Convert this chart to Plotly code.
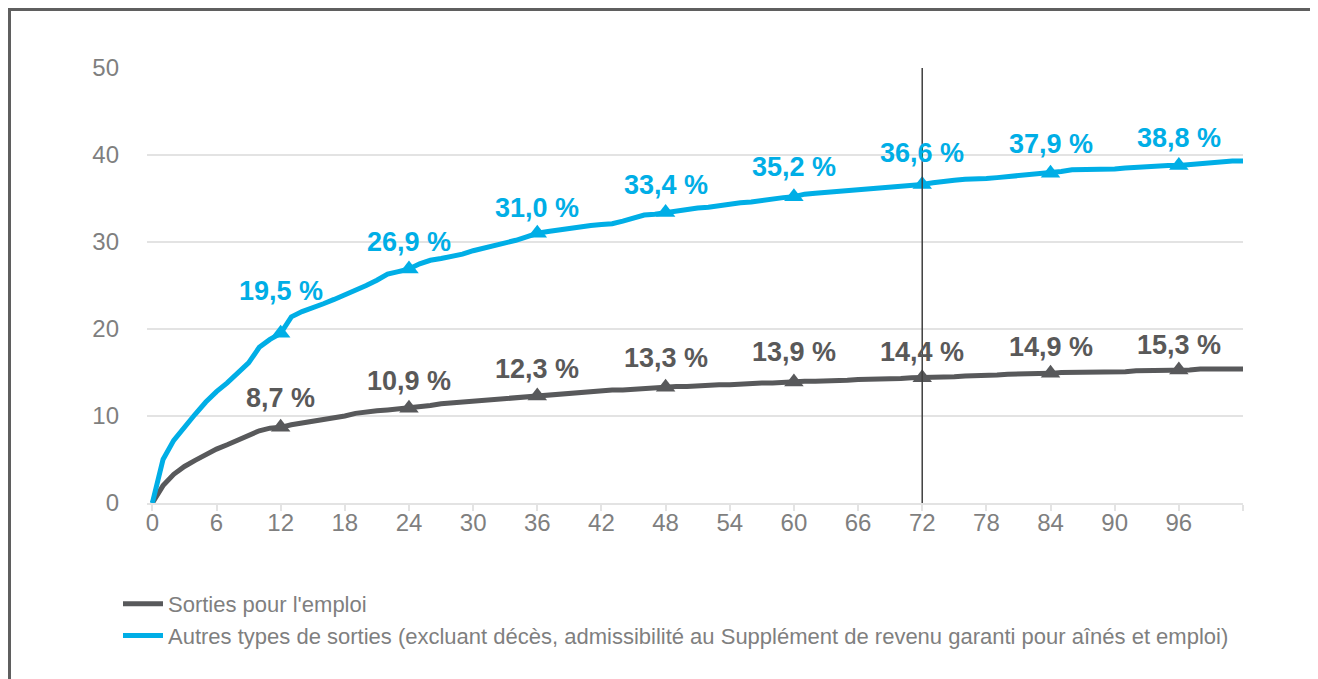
import plotly.graph_objects as go

# months 0..102
months = list(range(0, 103))

emploi = [
    0.0, 2.0, 3.3, 4.2, 4.9, 5.6, 6.2, 6.7, 7.2, 7.8,
    8.3, 8.6, 8.7, 9.0, 9.2, 9.3, 9.6, 9.8, 10.0, 10.3,
    10.5, 10.6, 10.7, 10.8, 10.9, 11.1, 11.2, 11.4, 11.5, 11.6,
    11.8, 11.9, 12.0, 12.1, 12.2, 12.2, 12.3, 12.4, 12.5, 12.6,
    12.7, 12.8, 12.9, 13.0, 13.0, 13.1, 13.2, 13.3, 13.3, 13.4,
    13.4, 13.5, 13.5, 13.6, 13.6, 13.7, 13.8, 13.8, 13.8, 13.9,
    13.9, 14.0, 14.0, 14.0, 14.1, 14.1, 14.2, 14.2, 14.3, 14.3,
    14.3, 14.4, 14.4, 14.5, 14.5, 14.5, 14.6, 14.6, 14.7, 14.7,
    14.8, 14.8, 14.8, 14.9, 14.9, 15.0, 15.0, 15.0, 15.0, 15.1,
    15.1, 15.1, 15.2, 15.2, 15.3, 15.3, 15.3, 15.3, 15.4, 15.4,
    15.4, 15.4, 15.4,
]

autres = [
    0.0, 5.0, 7.2, 8.8, 10.2, 11.6, 12.8, 13.8, 14.9, 16.1,
    17.9, 18.8, 19.5, 21.4, 22.0, 22.4, 22.9, 23.4, 23.9, 24.4,
    25.0, 25.6, 26.3, 26.6, 26.9, 27.5, 27.9, 28.1, 28.3, 28.6,
    29.0, 29.3, 29.5, 29.8, 30.2, 30.6, 31.0, 31.2, 31.4, 31.6,
    31.8, 31.9, 32.0, 32.1, 32.4, 32.8, 33.1, 33.2, 33.4, 33.5,
    33.7, 33.9, 34.0, 34.2, 34.3, 34.5, 34.6, 34.8, 35.0, 35.1,
    35.2, 35.5, 35.6, 35.7, 35.7, 35.8, 35.9, 36.0, 36.1, 36.2,
    36.3, 36.4, 36.6, 36.8, 37.0, 37.1, 37.2, 37.2, 37.3, 37.4,
    37.5, 37.6, 37.7, 37.8, 37.9, 38.1, 38.3, 38.3, 38.4, 38.4,
    38.4, 38.5, 38.6, 38.6, 38.7, 38.8, 38.8, 38.9, 39.1, 39.2,
    39.2, 39.3, 39.3,
]

label_months = [12, 24, 36, 48, 60, 72, 84, 96]
emploi_labels = [8.7, 10.9, 12.3, 13.3, 13.9, 14.4, 14.9, 15.3]
autres_labels = [19.5, 26.9, 31.0, 33.4, 35.2, 36.6, 37.9, 38.8]

tick_vals = list(range(0, 103, 6))
tick_text = [str(v) for v in range(0, 97, 6)] + [""]
y_ticks = [0, 10, 20, 30, 40, 50]

series_names = [
    "Sorties pour l'emploi",
    "Autres types de sorties (excluant décès, admissibilité au Supplément de revenu garanti pour aînés et emploi)",
]

GRAY = "#58595b"
BLUE = "#00aee6"
FONT = "Liberation Sans, Arial, sans-serif"

# label offsets (pixels above point)
emploi_shift = [29, 27, 27, 29, 30, 26, 26, 25]
autres_shift = [42, 27, 25, 27, 30, 32, 29, 27]


def fmt(v):
    return f"{v:.1f}".replace(".", ",") + " %"


fig = go.Figure()

fig.add_trace(go.Scatter(x=months, y=emploi, mode="lines", name=series_names[0],
                         line=dict(color=GRAY, width=5)))
fig.add_trace(go.Scatter(x=months, y=autres, mode="lines", name=series_names[1],
                         line=dict(color=BLUE, width=5)))
fig.add_trace(go.Scatter(x=label_months, y=emploi_labels, mode="markers", showlegend=False,
                         marker=dict(symbol="triangle-up", size=17, color=GRAY)))
fig.add_trace(go.Scatter(x=label_months, y=autres_labels, mode="markers", showlegend=False,
                         marker=dict(symbol="triangle-up", size=17, color=BLUE)))

for m, v, s in zip(label_months, emploi_labels, emploi_shift):
    fig.add_annotation(x=m, y=v, text=fmt(v), showarrow=False, yshift=s,
                       font=dict(family=FONT, size=27, color="#595959", weight="bold"))
for m, v, s in zip(label_months, autres_labels, autres_shift):
    fig.add_annotation(x=m, y=v, text=fmt(v), showarrow=False, yshift=s,
                       font=dict(family=FONT, size=27, color=BLUE, weight="bold"))

# page has an 8px body margin; figure origin sits at page (8, 8)
L, R, T, B = 139, 75, 60, 176
W, H = 1310, 671
pw, ph = W - L - R, H - T - B

# vertical reference line at 72 months
fig.add_shape(type="line", xref="x", yref="paper", x0=72, x1=72, y0=0, y1=1,
              line=dict(color="#3f3f3f", width=1.5), layer="above")

# outer frame
fig.add_shape(type="rect", xref="paper", yref="paper",
              x0=(1 - L) / pw, x1=(1305 - L) / pw,
              y0=(T + ph - 720) / ph, y1=(T + ph - 1) / ph,
              line=dict(color="#5f5f5f", width=4), fillcolor="rgba(0,0,0,0)")

fig.update_layout(
    width=W, height=H,
    margin=dict(l=L, r=R, t=T, b=B),
    plot_bgcolor="white", paper_bgcolor="white",
    font=dict(family=FONT, color="#7f7f7f"),
    xaxis=dict(range=[-0.5, 102], tickmode="array", tickvals=tick_vals, ticktext=tick_text,
               showgrid=False, zeroline=False, showline=True, linecolor="#e3e3e3", linewidth=2,
               ticks="outside", ticklen=6, tickcolor="#e3e3e3", tickwidth=2,
               ticklabelstandoff=-9,
               tickfont=dict(size=24, color="#7f7f7f")),
    yaxis=dict(range=[0, 50], tickvals=y_ticks, showgrid=True, gridcolor="#e3e3e3", gridwidth=2,
               zeroline=False, showline=False, ticks="", ticklabelstandoff=27,
               tickfont=dict(size=24, color="#7f7f7f")),
    legend=dict(x=(110 - L) / pw, y=(T + ph - 575) / ph, xanchor="left", yanchor="top",
                font=dict(size=22, color="#7f7f7f", family=FONT), bgcolor="rgba(0,0,0,0)",
                tracegroupgap=0, itemwidth=40),
    showlegend=True,
)

fig.write_html("out.html")
